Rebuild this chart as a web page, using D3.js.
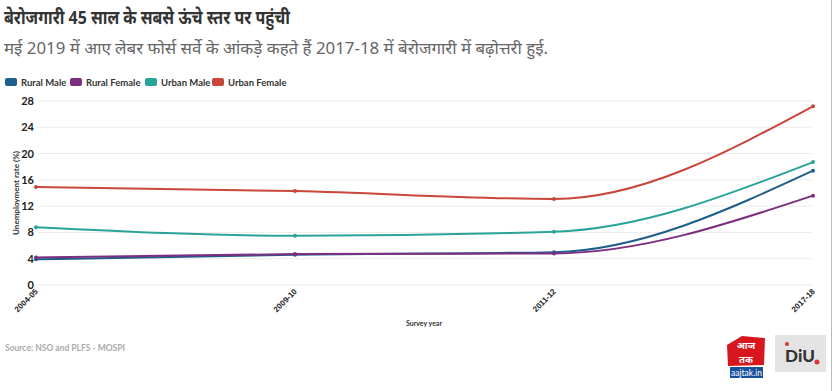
<!DOCTYPE html>
<html><head><meta charset="utf-8">
<script src="https://cdn.jsdelivr.net/npm/d3@7"></script>
<style>
body{margin:0;background:#fff;}
svg{display:block;font-family:Lato,"Noto Sans",sans-serif;}
</style></head>
<body>
<svg id="c" width="833" height="391"></svg>
<script>
const years = ["2004-05","2009-10","2011-12","2017-18"];
const seriesNames = ["Rural Male","Rural Female","Urban Male","Urban Female"];
const colors = ["#1d5f8a","#7d2e80","#2aa39a","#c8473a"];
const ruralMale = [3.9,4.6,5.0,17.4];
const ruralFemale = [4.2,4.7,4.8,13.6];
const urbanMale = [8.8,7.5,8.1,18.7];
const urbanFemale = [14.9,14.3,13.1,27.2];
const yTicks = [0,4,8,12,16,20,24,28];
const titleText = "बेरोजगारी 45 साल के सबसे ऊंचे स्तर पर पहुंची";
const subtitleText = "मई 2019 में आए लेबर फोर्स सर्वे के आंकड़े कहते हैं 2017-18 में बेरोजगारी में बढ़ोत्तरी हुई.";
const sourceText = "Source: NSO and PLFS - MOSPI";

const series = [ruralMale, ruralFemale, urbanMale, urbanFemale];
const svg = d3.select("#c");

// right border
svg.append("line").attr("x1",831.5).attr("x2",831.5).attr("y1",0).attr("y2",391).attr("stroke","#bbb").attr("stroke-width",1);

svg.append("text").attr("x",4).attr("y",24).attr("font-size",18.5).attr("font-weight",700)
  .attr("fill","#333").attr("font-family","'Noto Sans',Lato,sans-serif")
  .attr("textLength",286).attr("lengthAdjust","spacingAndGlyphs").text(titleText);
svg.append("text").attr("x",4).attr("y",54).attr("font-size",16.5).attr("font-weight",400)
  .attr("fill","#666").attr("font-family","'Noto Sans',Lato,sans-serif")
  .attr("textLength",544).attr("lengthAdjust","spacingAndGlyphs").text(subtitleText);

// legend
const legX = [5, 70, 145, 212];
const leg = svg.append("g");
seriesNames.forEach((n,i)=>{
  leg.append("rect").attr("x",legX[i]).attr("y",78).attr("width",12).attr("height",8).attr("rx",2).attr("fill",colors[i]);
  leg.append("text").attr("x",legX[i]+16).attr("y",86).attr("font-size",9.5).attr("font-weight",700).attr("fill","#333").text(n);
});

const x = d3.scalePoint().domain(years).range([36,813]);
const y = d3.scaleLinear().domain([0,28]).range([285,101]);

// grid
const grid = svg.append("g");
yTicks.forEach(t=>{
  grid.append("line").attr("x1",38).attr("x2",813).attr("y1",y(t)).attr("y2",y(t)).attr("stroke","#ececec").attr("stroke-width",1);
});

const yAxis = svg.append("g").attr("transform","translate(36,0)")
  .call(d3.axisLeft(y).tickValues(yTicks).tickSize(0).tickPadding(2));
yAxis.select(".domain").remove();
yAxis.selectAll("text").attr("font-size",11).attr("font-weight",700).attr("fill","#222").attr("font-family","Lato,sans-serif");

const xAxis = svg.append("g").attr("transform","translate(0,287)")
  .call(d3.axisBottom(x).tickSize(0).tickPadding(0));
xAxis.select(".domain").remove();
xAxis.selectAll("text").attr("font-size",8).attr("font-weight",700).attr("fill","#222")
  .attr("text-anchor","end").attr("dy","0.35em").attr("dx",0)
  .attr("transform","translate(0,3) rotate(-45)").attr("y",0).attr("x",0);

svg.append("text").attr("transform","translate(19,193) rotate(-90)").attr("text-anchor","middle")
  .attr("font-size",8).attr("font-weight",700).attr("fill","#333").text("Unemployment rate (%)");
svg.append("text").attr("x",424).attr("y",326).attr("text-anchor","middle")
  .attr("font-size",7).attr("font-weight",700).attr("fill","#333").text("Survey year");

const line = d3.line().x((d,i)=>x(years[i])).y(d=>y(d)).curve(d3.curveMonotoneX);
const lines = svg.append("g");
series.forEach((s,i)=>{
  lines.append("path").attr("d",line(s)).attr("fill","none").attr("stroke",colors[i]).attr("stroke-width",2);
  s.forEach((v,j)=>{
    lines.append("circle").attr("cx",x(years[j])).attr("cy",y(v)).attr("r",2).attr("fill",colors[i]);
  });
});

svg.append("text").attr("x",5).attr("y",351).attr("font-size",8.5).attr("font-weight",700).attr("fill","#aaa").text(sourceText);

// logos
const lg = svg.append("g");
lg.append("path").attr("d","M727,345 L742,336 L765,338 L764,365 L728,366 Z").attr("fill","#d7161e");
lg.append("text").attr("x",746).attr("y",349).attr("text-anchor","middle").attr("font-size",9.5).attr("font-weight",700).attr("fill","#fff").attr("font-family","'Noto Sans',sans-serif").text("आज");
lg.append("text").attr("x",746).attr("y",363).attr("text-anchor","middle").attr("font-size",9.5).attr("font-weight",700).attr("fill","#fff").attr("font-family","'Noto Sans',sans-serif").text("तक");
lg.append("rect").attr("x",730).attr("y",367).attr("width",33).attr("height",11).attr("fill","#1a4f9c");
lg.append("text").attr("x",746.5).attr("y",376).attr("text-anchor","middle").attr("font-size",8.5).attr("fill","#fff").text("aajtak.in");
lg.append("rect").attr("x",775).attr("y",335).attr("width",51).attr("height",37).attr("fill","#e4e4e4");
lg.append("text").attr("x",800).attr("y",362).attr("text-anchor","middle").attr("font-size",17).attr("font-weight",900).attr("fill","#333").text("DiU");
lg.append("circle").attr("cx",787).attr("cy",344).attr("r",2).attr("fill","#d33");
lg.append("circle").attr("cx",817).attr("cy",362).attr("r",2.5).attr("fill","#d33");
</script>
</body></html>
